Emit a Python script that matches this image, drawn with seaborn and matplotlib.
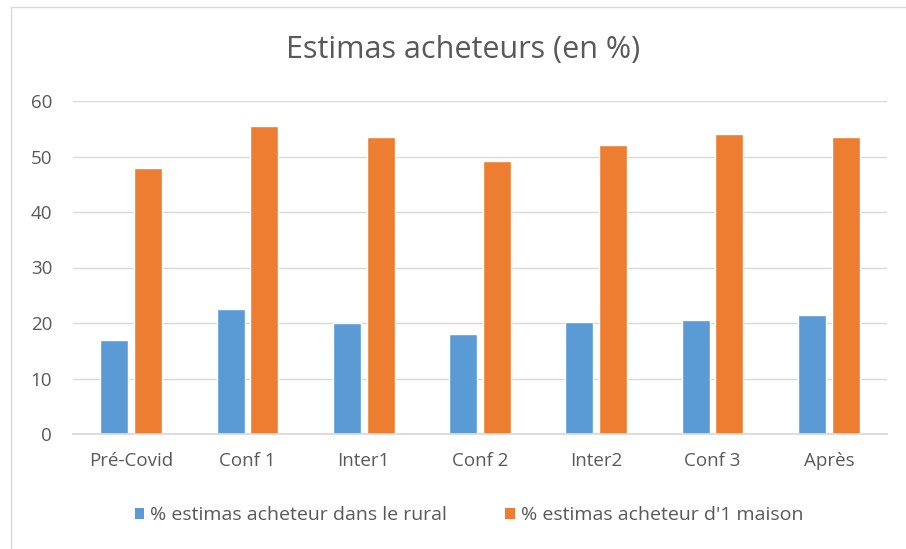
import matplotlib
matplotlib.use("Agg")
import matplotlib.pyplot as plt
import seaborn as sns
import pandas as pd
from matplotlib.lines import Line2D
from matplotlib.patches import Patch

categories = ["Pré-Covid", "Conf 1", "Inter1", "Conf 2", "Inter2", "Conf 3", "Après"]
rural = [17.0, 22.6, 20.0, 18.1, 20.1, 20.5, 21.4]
maison = [47.9, 55.5, 53.6, 49.1, 52.1, 54.1, 53.6]
series_names = ["% estimas acheteur dans le rural", "% estimas acheteur d'1 maison"]
yticks = [0, 10, 20, 30, 40, 50, 60]

df = pd.DataFrame({
    "cat": categories * 2,
    "val": rural + maison,
    "serie": [series_names[0]] * len(categories) + [series_names[1]] * len(categories),
})

sns.set_theme(style="white")
plt.rcParams["font.family"] = ["Open Sans", "DejaVu Sans"]

colors = ["#5B9BD5", "#ED7D31"]
text_color = "#595959"

fig = plt.figure(figsize=(9.06, 5.49), dpi=100)
ax = fig.add_axes([73 / 906, 1 - 434 / 549, (887 - 73) / 906, (434 - 101) / 549])

sns.barplot(data=df, x="cat", y="val", hue="serie", palette=colors, width=0.58,
            gap=0.17, ax=ax, legend=False, saturation=1)

ax.set_ylim(0, 60)
ax.set_yticks(yticks)
ax.set_xlim(-0.5, len(categories) - 0.5)
ax.yaxis.grid(True, color="#D9D9D9", linewidth=1)
ax.set_axisbelow(True)
for s in ["top", "right", "left"]:
    ax.spines[s].set_visible(False)
ax.spines["bottom"].set_color("#D9D9D9")
ax.set_xlabel("")
ax.set_ylabel("")
ax.tick_params(axis="both", length=0, labelsize=13.5, colors=text_color)
ax.tick_params(axis="y", pad=15)
ax.tick_params(axis="x", pad=13)

fig.text(463 / 906, 1 - 50 / 549, "Estimas acheteurs (en %)", ha="center", va="center",
         fontsize=22, color=text_color)

handles = [Patch(facecolor=c, edgecolor="none") for c in colors]
fig.legend(handles, series_names, loc="center", bbox_to_anchor=(469 / 906, 1 - 515 / 549),
           ncol=2, frameon=False, fontsize=14, labelcolor=text_color,
           handlelength=0.5, handleheight=0.5, handletextpad=0.3, columnspacing=3.0)

# chart border
fig.add_artist(Line2D([11 / 906, 11 / 906], [0, 1 - 7 / 549], color="#D9D9D9", lw=1))
fig.add_artist(Line2D([11 / 906, 1], [1 - 7 / 549, 1 - 7 / 549], color="#D9D9D9", lw=1))

fig.savefig("out.png", dpi=100)
